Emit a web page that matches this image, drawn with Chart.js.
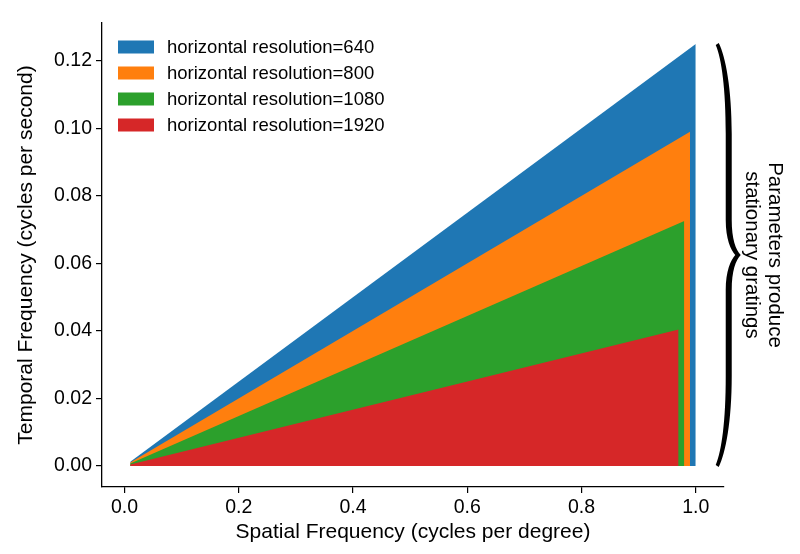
<!DOCTYPE html>
<html>
<head>
<meta charset="utf-8">
<script src="https://cdn.jsdelivr.net/npm/chart.js@4.4.1/dist/chart.umd.min.js"></script>
<style>
  html, body { margin: 0; padding: 0; background: #fff; }
  #wrap { width: 800px; height: 554px; position: relative; }
</style>
</head>
<body>
<div id="wrap"><canvas id="chart"></canvas></div>
<script>
// values
var resolutions = [640, 800, 1080, 1920];
var spatialStart = [0.01, 0.01, 0.01, 0.01];
var spatialEnd = [1.0, 0.99, 0.98, 0.97];
var temporalStart = [0.00125, 0.0010, 0.00074, 0.00042];
var temporalEnd = [0.125, 0.099, 0.0726, 0.0404];
var colors = ['#1f77b4', '#ff7f0e', '#2ca02c', '#d62728'];
var xTicks = [0.0, 0.2, 0.4, 0.6, 0.8, 1.0];
var yTicks = [0.00, 0.02, 0.04, 0.06, 0.08, 0.10, 0.12];
var braceRange = [0, 0.125];
var braceText = ['Parameters produce', 'stationary gratings'];

var FONT = "'Liberation Sans', Arial, sans-serif";
Chart.defaults.font.family = FONT;
Chart.defaults.color = '#000';

var datasets = resolutions.map(function (res, i) {
    return {
        label: 'horizontal resolution=' + res,
        data: [
            {x: spatialStart[i], y: temporalStart[i]},
            {x: spatialEnd[i], y: temporalEnd[i]},
            {x: spatialEnd[i], y: 0}
        ],
        backgroundColor: colors[i],
        borderColor: colors[i],
        borderWidth: 0,
        pointRadius: 0,
        fill: 'origin',
        tension: 0,
        order: resolutions.length - 1 - i
    };
});

// legend drawn inside the plot area, like matplotlib's upper left legend
var insideLegend = {
    id: 'insideLegend',
    afterDraw: function (chart) {
        var ctx = chart.ctx, area = chart.chartArea;
        ctx.save();
        ctx.font = '18.5px ' + FONT;
        ctx.textBaseline = 'middle';
        ctx.textAlign = 'left';
        chart.data.datasets.forEach(function (ds, i) {
            var cy = area.top + 24 + i * 26;
            ctx.fillStyle = ds.backgroundColor;
            ctx.fillRect(area.left + 16, cy - 6.5, 36, 13);
            ctx.fillStyle = '#000';
            ctx.fillText(ds.label, area.left + 65, cy + 1);
        });
        ctx.restore();
    }
};

// curly brace + rotated note on the right side
var bracePlugin = {
    id: 'bracePlugin',
    afterDraw: function (chart) {
        var ctx = chart.ctx;
        var xs = chart.scales.x, ys = chart.scales.y;
        var xb = xs.getPixelForValue(1.0) + 20;
        var yT = ys.getPixelForValue(braceRange[1]);
        var yB = ys.getPixelForValue(braceRange[0]);
        var m = (yT + yB) / 2;
        ctx.save();
        ctx.fillStyle = '#000';
        ctx.beginPath();
        ctx.moveTo(xb + 3, yT - 1);
        ctx.bezierCurveTo(xb + 10, yT + 13, xb + 16, yT + 45, xb + 16, yT + 90);
        ctx.lineTo(xb + 16, m - 35);
        ctx.bezierCurveTo(xb + 16, m - 16, xb + 20, m - 5, xb + 25, m);
        ctx.bezierCurveTo(xb + 20, m + 5, xb + 16, m + 16, xb + 16, m + 35);
        ctx.lineTo(xb + 16, yB - 90);
        ctx.bezierCurveTo(xb + 16, yB - 45, xb + 10, yB - 13, xb + 3, yB + 1);
        ctx.lineTo(xb, yB - 1);
        ctx.bezierCurveTo(xb + 6, yB - 15, xb + 10, yB - 45, xb + 10, yB - 90);
        ctx.lineTo(xb + 10, m + 35);
        ctx.bezierCurveTo(xb + 10, m + 16, xb + 15, m + 5, xb + 19.5, m);
        ctx.bezierCurveTo(xb + 15, m - 5, xb + 10, m - 16, xb + 10, m - 35);
        ctx.lineTo(xb + 10, yT + 90);
        ctx.bezierCurveTo(xb + 10, yT + 45, xb + 6, yT + 15, xb, yT + 1);
        ctx.closePath();
        ctx.fill();

        ctx.translate(xb + 47.5, m);
        ctx.rotate(Math.PI / 2);
        ctx.font = '20.5px ' + FONT;
        ctx.textAlign = 'center';
        ctx.textBaseline = 'middle';
        ctx.fillText(braceText[0], 0, -11.5);
        ctx.fillText(braceText[1], 0, 11.5);
        ctx.restore();
    }
};

var ctx = document.getElementById('chart').getContext('2d');
var chart = new Chart(ctx, {
    type: 'line',
    data: { datasets: datasets },
    options: {
        responsive: true,
        maintainAspectRatio: false,
        animation: false,
        layout: { padding: { left: 0, top: 23, right: 76, bottom: 0 } },
        plugins: {
            legend: { display: false },
            tooltip: { enabled: false }
        },
        scales: {
            x: {
                type: 'linear',
                min: -0.0395,
                max: 1.0495,
                afterBuildTicks: function (s) { s.ticks = xTicks.map(function (v) { return {value: v}; }); },
                afterFit: function (s) { s.height = 67; },
                ticks: {
                    callback: function (v) { return v.toFixed(1); },
                    font: { size: 19.5 },
                    color: '#000',
                    padding: 3,
                    maxRotation: 0,
                    autoSkip: false
                },
                grid: { display: true, drawOnChartArea: false, drawTicks: true, tickLength: 6, color: '#000', lineWidth: 1.2 },
                border: { display: true, color: '#000', width: 1.3 },
                title: {
                    display: true,
                    text: 'Spatial Frequency (cycles per degree)',
                    font: { size: 21 },
                    color: '#000',
                    padding: { top: 0, bottom: 9 }
                }
            },
            y: {
                type: 'linear',
                min: -0.00625,
                max: 0.13125,
                afterBuildTicks: function (s) { s.ticks = yTicks.map(function (v) { return {value: v}; }); },
                afterFit: function (s) { s.width = 102; },
                ticks: {
                    callback: function (v) { return v.toFixed(2); },
                    font: { size: 19.5 },
                    color: '#000',
                    padding: 4,
                    autoSkip: false
                },
                grid: { display: true, drawOnChartArea: false, drawTicks: true, tickLength: 6, color: '#000', lineWidth: 1.2 },
                border: { display: true, color: '#000', width: 1.3 },
                title: {
                    display: true,
                    text: 'Temporal Frequency (cycles per second)',
                    font: { size: 21 },
                    color: '#000',
                    padding: { top: 13.5, bottom: 0 }
                }
            }
        }
    },
    plugins: [insideLegend, bracePlugin]
});
</script>
</body>
</html>
